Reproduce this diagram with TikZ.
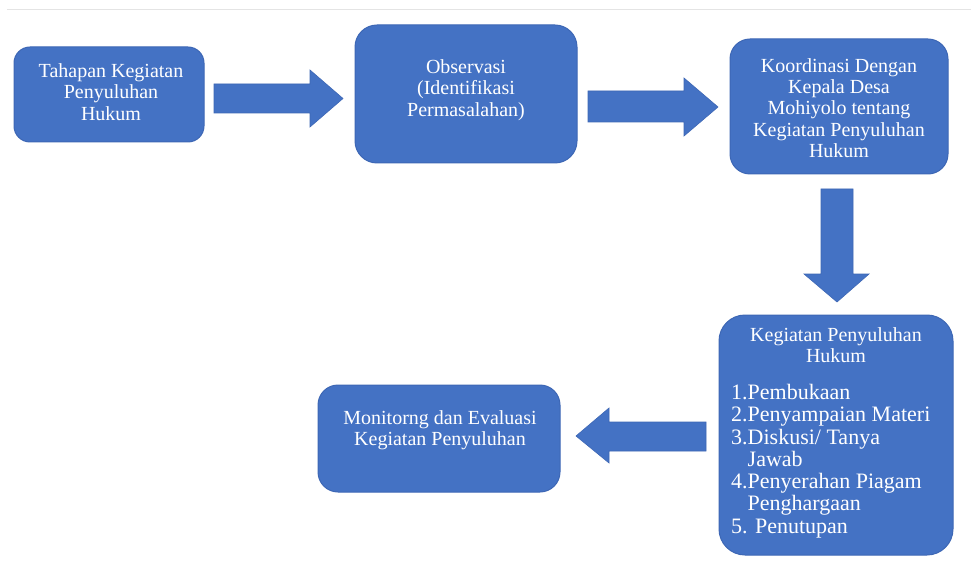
\documentclass[tikz,border=0pt]{standalone}
\usepackage{fontspec}
\setmainfont{Liberation Serif}
\definecolor{boxblue}{HTML}{4472C4}
\definecolor{boxedge}{HTML}{3D67B5}
\definecolor{topline}{HTML}{E4E4E4}
\begin{document}
\begin{tikzpicture}[x=1pt,y=-1pt,
  box/.style={draw=boxedge,fill=boxblue,line width=1pt,rounded corners=#1,inner sep=0pt},
  box/.default=16pt,
  txt/.style={text=white,font=\fontsize{20}{21.2}\selectfont,inner sep=0pt},
  blockarrow/.style={fill=boxblue,draw=boxedge,line width=0.6pt}]
\useasboundingbox (0,0) rectangle (971,569);
\fill[white] (0,0) rectangle (971,569);
\draw[topline,line width=1pt] (7,10) -- (971,10);
% boxes
\draw[box=16pt] (14,47) rectangle (204,142);
\coordinate (b1) at (109,94.5);
\draw[box=22pt] (355,25) rectangle (577,163);
\coordinate (b2) at (466,94);
\draw[box=20pt] (730,39) rectangle (948,174);
\coordinate (b3) at (839,106.5);
\draw[box=26pt] (719,315) rectangle (953,555);
\coordinate (b4) at (836,435);
\draw[box=20pt] (318,385) rectangle (560,492);
\coordinate (b5) at (439,438.5);
% texts
\node[txt,align=center] (t1) at (111,92) {Tahapan Kegiatan\\Penyuluhan\\Hukum};
\node[txt,align=center] (t2) at (466,90) {Observasi\\(Identifikasi\\Permasalahan)};
\node[txt,align=center] (t3) at (839,108) {Koordinasi Dengan\\Kepala Desa\\Mohiyolo tentang\\Kegiatan Penyuluhan\\Hukum};
\node[txt,align=center,anchor=north] (t4h) at (836,327) {Kegiatan Penyuluhan\\Hukum};
\node[txt,align=left,anchor=north west,font=\fontsize{22}{22.3}\selectfont] (t4l) at (731,384)
  {1.Pembukaan\\2.Penyampaian Materi\\3.Diskusi/ Tanya\\\hphantom{3.}Jawab\\4.Penyerahan Piagam\\\hphantom{4.}Penghargaan\\5. Penutupan};
\node[txt,align=center] (t5) at (440,430) {Monitorng dan Evaluasi\\Kegiatan Penyuluhan};
% block arrows
\draw[blockarrow] (214,84) -- (310,84) -- (310,70) -- (343,98.5) -- (310,127) -- (310,113) -- (214,113) -- cycle;
\draw[blockarrow] (588,91) -- (684,91) -- (684,78) -- (718,107) -- (684,136) -- (684,122) -- (588,122) -- cycle;
\draw[blockarrow] (821,189) -- (853,189) -- (853,274) -- (869,274) -- (837,302) -- (804,274) -- (821,274) -- cycle;
\draw[blockarrow] (706,422) -- (609,422) -- (609,408) -- (576,436) -- (609,463) -- (609,451) -- (706,451) -- cycle;
\end{tikzpicture}
\end{document}
